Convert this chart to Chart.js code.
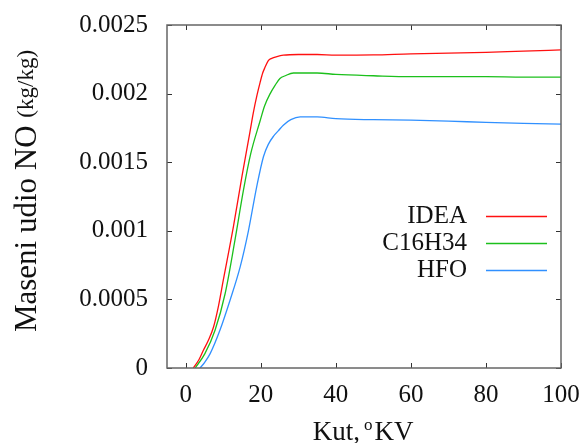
<!DOCTYPE html>
<html><head><meta charset="utf-8">
<script src="https://cdn.jsdelivr.net/npm/chart.js@4/dist/chart.umd.min.js"></script>
<style>html,body{margin:0;padding:0;background:#fff}#wrap{width:582px;height:443px}</style>
</head><body><div id="wrap"><canvas id="c" width="582" height="443"></canvas></div>
<script>
const seriesNames = ['IDEA', 'C16H34', 'HFO'];
const ideaX = [2.0, 3.5, 4.7, 6.0, 7.4, 8.7, 10.0, 12.7, 15.0, 17.1, 18.0, 19.0, 19.8, 20.5, 21.1, 22.0, 22.9, 24.3, 26, 30, 35, 40, 50, 60, 70, 80, 90, 100];
const ideaY = [0, 0.00006, 0.000129, 0.0002, 0.000299, 0.00045, 0.00064, 0.00103, 0.0014, 0.00172, 0.00186, 0.00199, 0.00208, 0.00215, 0.00219, 0.00224, 0.002257, 0.00227, 0.00228, 0.002285, 0.002285, 0.00228, 0.002282, 0.00229, 0.002295, 0.0023, 0.00231, 0.002318];
const c16X = [2.5, 5.1, 7.8, 10.5, 13.1, 15.4, 17.3, 19.8, 21.0, 22.5, 23.8, 25.1, 26.5, 28.7, 35, 40, 50, 60, 80, 90, 100];
const c16Y = [0, 0.000105, 0.000275, 0.000543, 0.00093, 0.0013, 0.00156, 0.0018, 0.00191, 0.002, 0.00206, 0.00211, 0.00213, 0.00215, 0.00215, 0.00214, 0.00213, 0.002123, 0.002123, 0.00212, 0.00212];
const hfoX = [3.8, 5.0, 6.5, 9.1, 11.8, 14.5, 16.7, 18.9, 20.7, 22, 23.4, 24.7, 26, 28, 30.5, 35, 40, 50, 60, 70, 80, 90, 100];
const hfoY = [0, 0.00004, 0.000105, 0.000275, 0.000494, 0.000737, 0.001, 0.00132, 0.00154, 0.00163, 0.00169, 0.00173, 0.00177, 0.00181, 0.00183, 0.00183, 0.001817, 0.00181, 0.001807, 0.0018, 0.00179, 0.001783, 0.001778];
const xTicks = [0, 20, 40, 60, 80, 100];
const yTicks = [0, 0.0005, 0.001, 0.0015, 0.002, 0.0025];
const yTickLabels = ['0', '0.0005', '0.001', '0.0015', '0.002', '0.0025'];
const colors = ['#ff1010', '#1cc01c', '#3090ff'];

const FONT = '"Liberation Serif", "Times New Roman", serif';
function pts(xs, ys) { return xs.map((x, i) => ({x: x, y: ys[i]})); }

const framePlugin = {
  id: 'frame',
  afterDraw(chart) {
    const ctx = chart.ctx, a = chart.chartArea;
    const xs = chart.scales.x, ys = chart.scales.y;
    ctx.save();
    ctx.strokeStyle = '#333';
    ctx.lineWidth = 1;
    const L = 5;
    xTicks.forEach(v => {
      const p = Math.round(xs.getPixelForValue(v)) + 0.5;
      ctx.beginPath();
      ctx.moveTo(p, a.bottom); ctx.lineTo(p, a.bottom - L);
      ctx.moveTo(p, a.top); ctx.lineTo(p, a.top + L);
      ctx.stroke();
    });
    yTicks.forEach(v => {
      const p = Math.round(ys.getPixelForValue(v)) + 0.5;
      ctx.beginPath();
      ctx.moveTo(a.left, p); ctx.lineTo(a.left + L, p);
      ctx.moveTo(a.right, p); ctx.lineTo(a.right - L, p);
      ctx.stroke();
    });
    ctx.strokeStyle = '#666';
    ctx.lineWidth = 1.5;
    ctx.strokeRect(a.left, a.top, a.right - a.left, a.bottom - a.top);

    // legend
    ctx.font = '25px ' + FONT;
    ctx.textAlign = 'right';
    ctx.textBaseline = 'middle';
    chart.data.datasets.forEach((ds, i) => {
      const y = 216 + i * 27;
      ctx.fillStyle = '#111';
      ctx.fillText(ds.label, 467, y);
      ctx.strokeStyle = ds.borderColor;
      ctx.lineWidth = 1.3;
      ctx.beginPath();
      ctx.moveTo(486, y + 0.5); ctx.lineTo(547, y + 0.5);
      ctx.stroke();
    });

    // y title
    ctx.save();
    ctx.translate(28, 191);
    ctx.rotate(-Math.PI / 2);
    ctx.textAlign = 'left';
    ctx.textBaseline = 'middle';
    const big = '31px ' + FONT, small = '23px ' + FONT;
    const t1 = 'Maseni udio NO ', t2 = '(kg/kg)';
    ctx.font = big; const w1 = ctx.measureText(t1).width;
    ctx.font = small; const w2 = ctx.measureText(t2).width;
    const start = -(w1 + w2) / 2;
    ctx.fillStyle = '#111';
    ctx.font = big; ctx.fillText(t1, start, 0);
    ctx.font = small; ctx.fillText(t2, start + w1, -1);
    ctx.restore();

    // x title
    const xb = '27px ' + FONT;
    ctx.fillStyle = '#111';
    ctx.textAlign = 'left';
    ctx.textBaseline = 'alphabetic';
    const b1 = 'Kut,', sup = 'o', b2 = 'KV';
    ctx.font = xb; const wa = ctx.measureText(b1).width; const wc = ctx.measureText(b2).width;
    ctx.font = '17px ' + FONT; const wb = ctx.measureText(sup).width;
    const sx = 363 - (wa + wb + wc + 6) / 2, by = 440;
    ctx.font = xb; ctx.fillText(b1, sx, by);
    ctx.font = '17px ' + FONT; ctx.fillText(sup, sx + wa + 4, by - 10);
    ctx.font = xb; ctx.fillText(b2, sx + wa + wb + 6, by);
    ctx.restore();
  }
};

new Chart(document.getElementById('c'), {
  type: 'line',
  data: {
    datasets: [
      {label: seriesNames[0], data: pts(ideaX, ideaY), borderColor: colors[0]},
      {label: seriesNames[1], data: pts(c16X, c16Y), borderColor: colors[1]},
      {label: seriesNames[2], data: pts(hfoX, hfoY), borderColor: colors[2]}
    ].map(d => Object.assign(d, {borderWidth: 1.3, pointRadius: 0, fill: false, cubicInterpolationMode: 'monotone'}))
  },
  options: {
    responsive: false,
    animation: false,
    layout: {padding: {top: 25, right: 21, left: 0, bottom: 0}},
    plugins: {legend: {display: false}, tooltip: {enabled: false}},
    scales: {
      x: {
        type: 'linear', min: -5, max: 100,
        afterBuildTicks: s => { s.ticks = xTicks.map(v => ({value: v})); },
        afterFit: s => { s.height = 75; s.paddingLeft = 0; s.paddingRight = 0; },
        grid: {display: false, drawTicks: false},
        border: {display: false},
        ticks: {color: '#111', font: {family: FONT, size: 25}, padding: 12, maxRotation: 0, callback: v => String(v)}
      },
      y: {
        type: 'linear', min: 0, max: 0.0025,
        afterBuildTicks: s => { s.ticks = yTicks.map(v => ({value: v})); },
        afterFit: s => { s.width = 167; s.paddingTop = 0; s.paddingBottom = 0; },
        grid: {display: false, drawTicks: false},
        border: {display: false},
        ticks: {color: '#111', font: {family: FONT, size: 25}, padding: 19, callback: (v, i) => yTickLabels[yTicks.indexOf(v)] ?? ''}
      }
    }
  },
  plugins: [framePlugin]
});
</script></body></html>
